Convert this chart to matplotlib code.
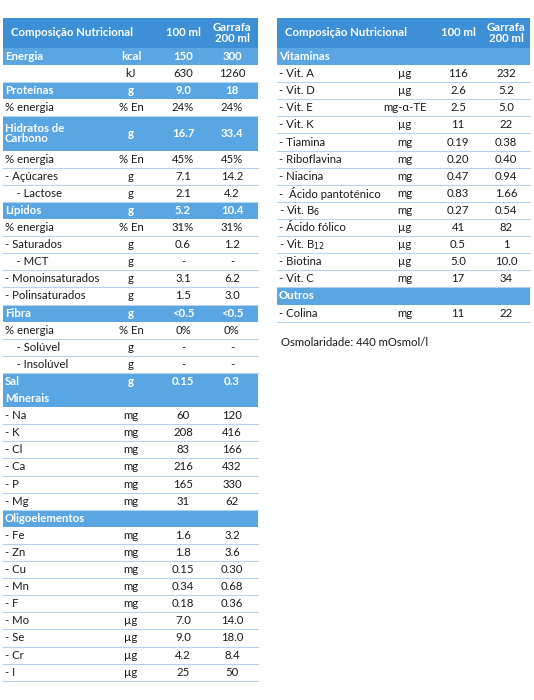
import matplotlib
matplotlib.use("Agg")
import matplotlib.pyplot as plt
from matplotlib.patches import Rectangle

plt.rcParams['font.family'] = ['Lato', 'DejaVu Sans']

header_cols = ["Composição Nutricional", "100 ml", "Garrafa\n200 ml"]

# (label, unit, per100, per200, kind) kind: 's' section, 'r' row, 't' tall section
left_rows = [
    ("Energia", "kcal", "150", "300", "s"),
    ("", "kJ", "630", "1260", "r"),
    ("Proteínas", "g", "9.0", "18", "s"),
    ("% energia", "% En", "24%", "24%", "r"),
    ("Hidratos de\nCarbono", "g", "16.7", "33.4", "t"),
    ("% energia", "% En", "45%", "45%", "r"),
    ("- Açúcares", "g", "7.1", "14.2", "r"),
    ("    - Lactose", "g", "2.1", "4.2", "r"),
    ("Lípidos", "g", "5.2", "10.4", "s"),
    ("% energia", "% En", "31%", "31%", "r"),
    ("- Saturados", "g", "0.6", "1.2", "r"),
    ("    - MCT", "g", "-", "-", "r"),
    ("- Monoinsaturados", "g", "3.1", "6.2", "r"),
    ("- Polinsaturados", "g", "1.5", "3.0", "r"),
    ("Fibra", "g", "<0.5", "<0.5", "s"),
    ("% energia", "% En", "0%", "0%", "r"),
    ("    - Solúvel", "g", "-", "-", "r"),
    ("    - Insolúvel", "g", "-", "-", "r"),
    ("Sal", "g", "0.15", "0.3", "s"),
    ("Minerais", "", "", "", "s"),
    ("- Na", "mg", "60", "120", "r"),
    ("- K", "mg", "208", "416", "r"),
    ("- Cl", "mg", "83", "166", "r"),
    ("- Ca", "mg", "216", "432", "r"),
    ("- P", "mg", "165", "330", "r"),
    ("- Mg", "mg", "31", "62", "r"),
    ("Oligoelementos", "", "", "", "s"),
    ("- Fe", "mg", "1.6", "3.2", "r"),
    ("- Zn", "mg", "1.8", "3.6", "r"),
    ("- Cu", "mg", "0.15", "0.30", "r"),
    ("- Mn", "mg", "0.34", "0.68", "r"),
    ("- F", "mg", "0.18", "0.36", "r"),
    ("- Mo", "µg", "7.0", "14.0", "r"),
    ("- Se", "µg", "9.0", "18.0", "r"),
    ("- Cr", "µg", "4.2", "8.4", "r"),
    ("- I", "µg", "25", "50", "r"),
]

right_rows = [
    ("Vitaminas", "", "", "", "s"),
    ("- Vit. A", "µg", "116", "232", "r"),
    ("- Vit. D", "µg", "2.6", "5.2", "r"),
    ("- Vit. E", "mg-α-TE", "2.5", "5.0", "r"),
    ("- Vit. K", "µg", "11", "22", "r"),
    ("- Tiamina", "mg", "0.19", "0.38", "r"),
    ("- Riboflavina", "mg", "0.20", "0.40", "r"),
    ("- Niacina", "mg", "0.47", "0.94", "r"),
    ("-  Ácido pantoténico", "mg", "0.83", "1.66", "r"),
    ("- Vit. B$_6$", "mg", "0.27", "0.54", "r"),
    ("- Ácido fólico", "µg", "41", "82", "r"),
    ("- Vit. B$_{12}$", "µg", "0.5", "1", "r"),
    ("- Biotina", "µg", "5.0", "10.0", "r"),
    ("- Vit. C", "mg", "17", "34", "r"),
    ("Outros", "", "", "", "s"),
    ("- Colina", "mg", "11", "22", "r"),
]

footnote = "Osmolaridade: 440 mOsmol/l"

HEAD = "#3d8fd6"
SEC = "#5aa6e2"
LINE = "#b5d2ee"
TXT = "#1a1a1a"
FS = 8.2

fig = plt.figure(figsize=(5.34, 7.0), dpi=100)
ax = fig.add_axes([0, 0, 1, 1])
ax.set_xlim(0, 534)
ax.set_ylim(700, 0)
ax.axis("off")


def draw_table(rows, x0, x1, xu, xa, xb, y0):
    ax.add_patch(Rectangle((x0, y0), x1 - x0, 30, color=HEAD, lw=0))
    ax.text(x0 + 8, y0 + 15, header_cols[0], color="white", fontsize=FS,
            fontweight="bold", va="center", ha="left")
    ax.text(xa, y0 + 15, header_cols[1], color="white", fontsize=FS,
            fontweight="bold", va="center", ha="center")
    ax.text(xb, y0 + 15, header_cols[2], color="white", fontsize=FS,
            fontweight="bold", va="center", ha="center", linespacing=1.0)
    y = y0 + 30
    rh = 17.1
    for lab, unit, a, b, kind in rows:
        h = rh * 2 if kind == "t" else rh
        sec = kind in ("s", "t")
        if sec:
            ax.add_patch(Rectangle((x0, y), x1 - x0, h, color=SEC, lw=0))
        else:
            ax.plot([x0, x1], [y + h, y + h], color=LINE, lw=0.8)
        c = "white" if sec else TXT
        fw = "bold" if sec else "normal"
        yc = y + h / 2
        ax.text(x0 + 2, yc, lab, color=c, fontsize=FS, fontweight=fw,
                va="center", ha="left", linespacing=1.0)
        ax.text(xu, yc, unit, color=c, fontsize=FS, fontweight=fw, va="center", ha="center")
        ax.text(xa, yc, a, color=c, fontsize=FS, fontweight=fw, va="center", ha="center")
        ax.text(xb, yc, b, color=c, fontsize=FS, fontweight=fw, va="center", ha="center")
        y += h
    return y


draw_table(left_rows, 3, 258, 131, 183, 232, 18)
draw_table(right_rows, 277, 530, 405, 458, 506, 18)
ax.text(281, 342, footnote, color=TXT, fontsize=FS, va="center", ha="left")

fig.savefig("out.png", dpi=100)
